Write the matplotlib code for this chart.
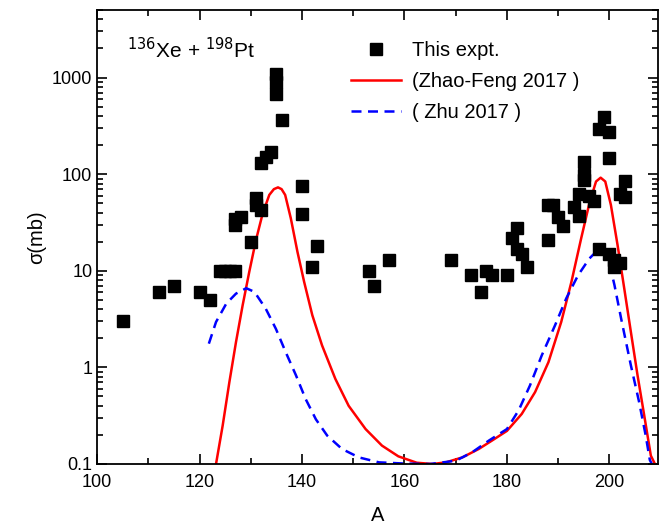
import numpy as np
import matplotlib
matplotlib.use("Agg")
import matplotlib.pyplot as plt
from matplotlib.ticker import LogLocator, NullFormatter, MultipleLocator, FixedLocator, FixedFormatter

plt.rcParams["font.family"] = ["Liberation Sans", "DejaVu Sans"]

# measured cross sections (mb)
expt_A = [105, 112, 115, 120, 122, 124, 125, 126, 127, 127, 127, 128, 130, 131, 131,
          132, 132, 133, 134, 135, 135, 135, 136, 140, 140, 142, 143,
          153, 154, 157,
          169, 173, 175, 176, 177, 180, 181, 182, 182, 183, 184, 188, 188, 189, 190,
          191, 193, 194, 194, 195, 195, 195, 196, 197, 198, 198, 199, 200, 200, 200,
          201, 201, 202, 202, 203, 203]
expt_sig = [3, 6, 7, 6, 5, 10, 10, 10, 10, 30, 34, 36, 20, 48, 57,
            43, 130, 150, 170, 1100, 900, 680, 365, 75, 39, 11, 18,
            10, 7, 13,
            13, 9, 6, 10, 9, 9, 22, 28, 17, 15, 11, 21, 48, 48, 36,
            29, 46, 37, 62, 133, 97, 87, 59, 53, 17, 292, 395, 275, 146, 15,
            13, 11, 12, 62, 85, 58]

# Zhao-Feng 2017
zf_A = [123.2, 124.5, 125.8, 127.1, 128.4, 129.7, 131.0, 132.3, 133.6, 134.5, 135.3,
        136.0, 136.7, 137.8, 139.1, 140.4, 142.0, 143.9, 146.5, 149.1, 152.4, 155.6,
        158.8, 162.4, 165.5, 168.1, 171.3, 174.5, 177.1, 180.0, 182.9, 185.5, 188.1,
        190.6, 192.6, 194.5, 196.1, 197.4, 198.3, 199.2, 200.3, 201.6, 202.9, 204.2,
        205.5, 206.8, 208.1, 208.9]
zf_sig = [0.1, 0.25, 0.70, 1.83, 4.4, 9.8, 20.8, 39, 61, 70, 73,
          70, 61, 35, 15.7, 7.7, 3.47, 1.69, 0.76, 0.40, 0.23, 0.155,
          0.12, 0.103, 0.1, 0.104, 0.117, 0.143, 0.175, 0.22, 0.33, 0.555, 1.13,
          2.95, 7.7, 21.7, 50, 84, 92, 84, 48, 18.5, 6.6, 2.33,
          0.83, 0.32, 0.122, 0.1]

# Zhu 2017
zhu_A = [121.8, 123.2, 125.2, 127.1, 129.1, 130.7, 132.9, 134.9, 136.8, 138.8, 140.7,
         142.7, 144.9, 147.8, 151.1, 155.0, 160.1, 165.0, 170.0, 173.2, 176.5, 180.0,
         182.3, 184.5, 186.8, 189.4, 191.6, 193.9, 196.1, 198.1, 199.7, 201.0, 202.3,
         204.2, 205.8, 207.1, 207.9, 208.3]
zhu_sig = [1.76, 2.95, 4.57, 5.8, 6.6, 6.05, 4.06, 2.5, 1.44, 0.83, 0.47,
           0.29, 0.197, 0.143, 0.117, 0.104, 0.101, 0.1, 0.108, 0.132, 0.175, 0.23,
           0.36, 0.65, 1.33, 2.73, 5.2, 9.0, 13.4, 17.1, 14, 7.1, 3.2,
           1.05, 0.44, 0.197, 0.11, 0.1]

fig = plt.figure(figsize=(6.59, 5.29), dpi=100)
ax = fig.add_axes([0.1475, 0.1229, 0.851, 0.8581])

ax.plot(expt_A, expt_sig, "s", color="black", markersize=8.5, label="This expt.", zorder=3)
ax.plot(zf_A, zf_sig, "-", color="#ff0000", lw=1.8, label="(Zhao-Feng 2017 )")
ax.plot(zhu_A, zhu_sig, "--", color="#0000ff", lw=1.8, dashes=(4, 2.6), label="( Zhu 2017 )")

ax.set_yscale("log")
ax.set_xlim(100, 209.5)
ax.set_ylim(0.1, 5000)

ax.xaxis.set_major_locator(MultipleLocator(20))
ax.xaxis.set_minor_locator(MultipleLocator(10))
ax.yaxis.set_major_locator(FixedLocator([0.1, 1, 10, 100, 1000]))
ax.yaxis.set_major_formatter(FixedFormatter(["0.1", "1", "10", "100", "1000"]))
ax.yaxis.set_minor_locator(LogLocator(base=10, subs=np.arange(2, 10), numticks=20))
ax.yaxis.set_minor_formatter(NullFormatter())
ax.tick_params(which="both", direction="in", top=True, right=True, labelsize=13, width=1.2)
ax.tick_params(which="major", length=7)
ax.tick_params(which="minor", length=4)
ax.tick_params(axis="x", pad=7)
for s in ax.spines.values():
    s.set_linewidth(1.3)

ax.set_xlabel("A", fontsize=14.5, labelpad=11)
ax.set_ylabel("σ(mb)", fontsize=14.5)

ax.text(0.053, 0.895, r"$^{136}$Xe + $^{198}$Pt", transform=ax.transAxes, fontsize=15,
        math_fontfamily="dejavusans")

ax.legend(loc="upper left", bbox_to_anchor=(0.42, 0.972), frameon=False, fontsize=14.5,
          handlelength=2.5, handletextpad=0.55, labelspacing=0.6)

fig.savefig("out.png", dpi=100)
